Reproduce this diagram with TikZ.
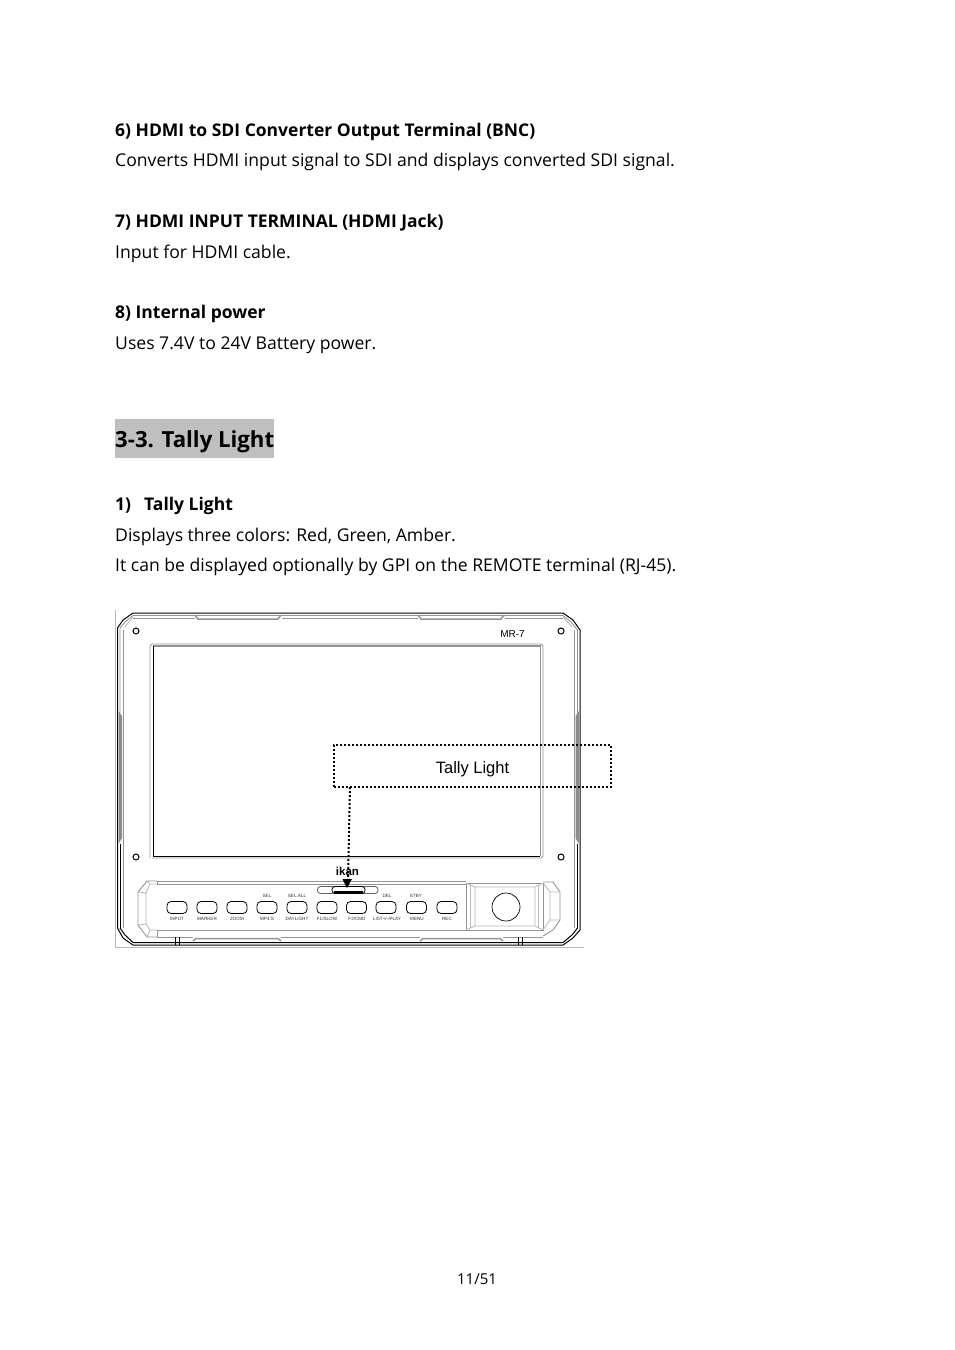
\documentclass[tikz,border=0pt]{standalone}
\usepackage{fontspec}
\setmainfont{Open Sans}
\newfontfamily\arialf{Liberation Sans}
\usetikzlibrary{arrows.meta}
\tikzset{
 body/.style={anchor=base west,inner sep=0pt,font=\fontsize{17.6}{22}\selectfont},
 head/.style={anchor=base west,inner sep=0pt,font=\fontsize{17.5}{22}\selectfont\bfseries},
 blk/.style={draw=black,line width=1pt},
 gry/.style={draw=black!42,line width=.9pt},
 lgt/.style={draw=black!28,line width=.8pt},
 btn/.style={draw=black,line width=.8pt,rounded corners=4pt,minimum width=20pt,minimum height=12pt,inner sep=0pt},
 tiny/.style={inner sep=0pt,text=black!80,font=\arialf\fontsize{4.6}{5}\selectfont},
 screw/.style={draw=black,line width=1pt,circle,minimum size=6pt,inner sep=0pt},
}
\begin{document}
\begin{tikzpicture}[x=1pt,y=-1pt]
\useasboundingbox (0,0) rectangle (954,1350);
\fill[white] (0,0) rectangle (954,1350);
\node[head] (h6) at (115,136) {6) HDMI to SDI Converter Output Terminal (BNC)};
\node[body] (b6) at (115,166) {Converts HDMI input signal to SDI and displays converted SDI signal.};
\node[head] (h7) at (115,227) {7) HDMI INPUT TERMINAL (HDMI Jack)};
\node[body] (b7) at (115,258) {Input for HDMI cable.};
\node[head] (h8) at (115,318) {8) Internal power};
\node[body] (b8) at (115,349) {Uses 7.4V to 24V Battery power.};
\fill[black!25] (115,419) rectangle (274,458);
\node[anchor=base west,inner sep=0pt,font=\fontsize{22.2}{28}\selectfont\bfseries] (sec) at (115,447) {3-3. Tally Light};
\node[head] (h1) at (115,510) {1)};
\node[head] (h1b) at (144,510) {Tally Light};
\node[body] (b1) at (115,541) {Displays three colors: Red, Green, Amber.};
\node[body] (b2) at (115,571) {It can be displayed optionally by GPI on the REMOTE terminal (RJ-45).};
\node[anchor=base,inner sep=0pt,font=\fontsize{15}{18}\selectfont] (pg) at (477,1284) {11/51};
% image edge
\draw[lgt] (115,610) -- (115,947) -- (584,947);
% outer frame
\draw[blk,line join=round] (117.5,713) -- (117.5,628) -- (123,620) -- (133,613) -- (563,613) -- (573,620) -- (580,630) -- (580,930) -- (573,938) -- (563,945) -- (133,945) -- (123,938) -- (117.5,928) -- cycle;
\draw[gry] (120,713) -- (120,628) -- (125,622) -- (133,615.5) -- (563,615.5) -- (571,622) -- (577.5,630) -- (577.5,713);
\draw[lgt] (133,617) -- (125,627) (563,617) -- (572,627);
\draw[gry] (133,618) -- (195,618) (282,618) -- (418,618) (505,618) -- (563,618);
\draw[gry,line width=1.5pt] (195,615) -- (198,619) -- (278,619) -- (281,615) (418,615) -- (421,619) -- (501,619) -- (504,615);
\draw[gry] (123.5,630) -- (123.5,928) (574,630) -- (574,928);
% side grooves
\fill[black!45] (118.5,711) -- (122,716) -- (122,838) -- (118.5,844) -- cycle;
\fill[black!45] (579,711) -- (575.5,716) -- (575.5,838) -- (579,844) -- cycle;
\draw[blk] (120,844) -- (120,928) (577.5,844) -- (577.5,928);
% bottom band
\draw[blk] (120,928) -- (125,935) -- (133,942.5) -- (563,942.5) -- (572,935) -- (577.5,928);
\draw[gry] (157,937) -- (193,937) (281,937) -- (420,937) (503,937) -- (543,937);
\draw[gry,line width=1.5pt] (193,941) -- (196,938.5) -- (278,938.5) -- (281,941) (420,941) -- (423,938.5) -- (500,938.5) -- (503,941);
\draw[blk,line width=.7pt] (175,937) -- (175,945) (179,937) -- (179,945) (518,937) -- (518,945) (522,937) -- (522,945);
% screen
\draw[gry] (150,858) -- (150,646) -- (152,644) -- (541,644) -- (543,646) -- (543,856) -- (541,858) -- (152,858);
\draw[gry,line width=1.3pt] (153,646) -- (541,646);
\draw[blk] (153,646) -- (153,856) -- (540,856);
\draw[gry] (540.5,646) -- (540.5,856);
% screws
\node[screw] (s1) at (136,631) {};
\node[screw] (s2) at (561,631) {};
\node[screw] (s3) at (136,857) {};
\node[screw] (s4) at (561,857) {};
% control panel
\draw[gry] (157,881) -- (147,881) -- (138,892) -- (138,925) -- (147,937) -- (157,937);
\draw[lgt] (157,884) -- (150,884) -- (146,893) -- (146,924) -- (150,930) -- (157,930) (138,892) -- (146,893) (138,925) -- (146,924) (147,881) -- (150,884) (147,937) -- (150,930);
\draw[gry] (157,881) -- (466,881) (157,884) -- (466,884) (157,930) -- (466,930);
\draw[gry] (157,881) -- (157,884) (157,930) -- (157,937);
% knob box and right bevel
\draw[gry] (466,883) -- (543,883) -- (543,930) -- (466,930) -- cycle;
\draw[lgt] (475,887) rectangle (535,926) (466,883) -- (475,887) (543,883) -- (535,887) (466,930) -- (475,926) (543,930) -- (535,926);
\draw[lgt] (470,885) -- (470,928) (538,885) -- (538,928);
\draw[gry] (543,882) -- (553,882) -- (560,892) -- (560,920) -- (553,930) -- (543,936);
\draw[lgt] (543,883) -- (550,892) -- (550,920) -- (543,930) (550,892) -- (560,892) (550,920) -- (560,920);
\node[draw=black,line width=.7pt,circle,minimum size=28pt,inner sep=0pt] (knob) at (506,907) {};
% buttons
\node[btn] (bt1) at (177,907.5) {};
\node[btn] (bt2) at (207,907.5) {};
\node[btn] (bt3) at (237,907.5) {};
\node[btn] (bt4) at (267,907.5) {};
\node[btn] (bt5) at (297,907.5) {};
\node[btn] (bt6) at (327,907.5) {};
\node[btn] (bt7) at (356.5,907.5) {};
\node[btn] (bt8) at (386,907.5) {};
\node[btn] (bt9) at (416.5,907.5) {};
\node[btn] (bt10) at (447,907.5) {};
\node[tiny] (l1) at (177,919) {INPUT};
\node[tiny] (l2) at (207,919) {MARKER};
\node[tiny] (l3) at (237,919) {ZOOM};
\node[tiny] (l4) at (267,919) {MP4:S};
\node[tiny] (l5) at (297,919) {DAYLIGHT};
\node[tiny] (l6) at (327,919) {F1/SLOW};
\node[tiny] (l7) at (357,919) {F2/CMD};
\node[tiny] (l8) at (387,919) {LIST+/-/PLAY};
\node[tiny] (l9) at (417,919) {MENU};
\node[tiny] (l10) at (447,919) {REC};
\node[tiny] (u4) at (267,896) {SEL};
\node[tiny] (u5) at (297,896) {SEL.ALL};
\node[tiny] (u8) at (387,896) {DEL};
\node[tiny] (u9) at (416,896) {STBY};
% tally slot
\draw[black!60,line width=.9pt,rounded corners=3pt,fill=white] (317.5,886.5) rectangle (378,893.5);
\draw[black,line width=.8pt,rounded corners=3pt,fill=white] (332,886.5) rectangle (365,893.5);
\draw[black,line width=2.4pt] (334,892.5) -- (363,892.5);
\node[inner sep=0pt,font=\arialf\fontsize{11.5}{12}\selectfont\bfseries] (ikan) at (347.5,871) {ikan};
\node[anchor=base,inner sep=0pt,font=\arialf\fontsize{10}{11}\selectfont] (mr) at (512.5,637) {MR-7};
% callout
\node[draw=black,line width=2pt,dotted,minimum width=277pt,minimum height=42pt,inner sep=0pt,anchor=north west] (tallybox) at (332.7,743.7) {};
\node[inner sep=0pt,font=\arialf\fontsize{16.5}{18}\selectfont] (tl) at (472.5,769) {Tally Light};
\coordinate (tallytarget) at (347,888);
\coordinate (tallyout) at (350,787);
\draw[black,line width=2pt,dotted] (tallyout) -- (348,880);
\fill[black] (tallytarget) -- (342.5,879) -- (352,879) -- cycle;
\end{tikzpicture}
\end{document}
